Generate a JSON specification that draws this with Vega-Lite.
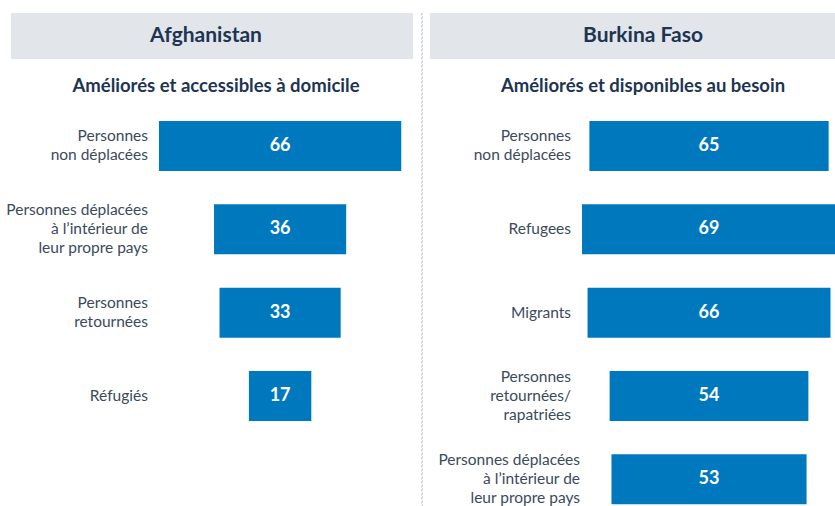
{
  "$schema": "https://vega.github.io/schema/vega-lite/v6.json",
  "autosize": {"type": "pad"},
  "padding": {"left": 6, "top": 12, "right": 0, "bottom": 0},
  "background": "white",
  "config": {
    "font": "Lato",
    "view": {"stroke": null},
    "title": {"font": "Lato"}
  },
  "datasets": {
    "afghanistan": [
      {"groupe": "Personnes non déplacées", "lignes": ["Personnes", "non déplacées"], "pct": 66},
      {"groupe": "Personnes déplacées à l’intérieur de leur propre pays", "lignes": ["Personnes déplacées", "à l’intérieur de", "leur propre pays"], "pct": 36},
      {"groupe": "Personnes retournées", "lignes": ["Personnes", "retournées"], "pct": 33},
      {"groupe": "Réfugiés", "lignes": ["Réfugiés"], "pct": 17}
    ],
    "burkina": [
      {"groupe": "Personnes non déplacées", "lignes": ["Personnes", "non déplacées"], "pct": 65},
      {"groupe": "Refugees", "lignes": ["Refugees"], "pct": 69},
      {"groupe": "Migrants", "lignes": ["Migrants"], "pct": 66},
      {"groupe": "Personnes retournées/rapatriées", "lignes": ["Personnes", "retournées/", "rapatriées"], "pct": 54},
      {"groupe": "Personnes déplacées à l’intérieur de leur propre pays", "lignes": ["Personnes déplacées", "à l’intérieur de", "leur propre pays"], "pct": 53}
    ]
  },
  "spacing": 7,
  "hconcat": [
    {
      "bounds": "flush",
      "spacing": 62,
      "vconcat": [
        {
          "width": 402,
          "height": 46,
          "view": {"fill": "#e2e6ea", "stroke": null},
          "data": {"values": [{"pays": "Afghanistan"}]},
          "mark": {"type": "text", "fontSize": 21, "fontWeight": "bold", "color": "#1d3552", "dx": -6, "baseline": "middle"},
          "encoding": {"text": {"field": "pays"}}
        },
        {
          "width": 402,
          "height": {"step": 83.33},
          "data": {"name": "afghanistan"},
          "title": {"text": "Améliorés et accessibles à domicile", "fontSize": 18.5, "fontWeight": "bold", "color": "#1d3552", "anchor": "middle", "offset": 26, "dx": 4},
          "encoding": {
            "y": {"field": "groupe", "type": "nominal", "sort": null, "axis": null, "scale": {"paddingInner": 0.4, "paddingOuter": 0}}
          },
          "layer": [
            {
              "mark": {"type": "bar", "color": "#0078be"},
              "encoding": {
                "x": {"field": "pct", "type": "quantitative", "stack": "center", "axis": null, "scale": {"domain": [-40.3, 69.2], "nice": false, "zero": false}}
              }
            },
            {
              "mark": {"type": "text", "color": "white", "fontSize": 18, "fontWeight": "bold", "baseline": "middle"},
              "encoding": {
                "x": {"datum": 33, "type": "quantitative"},
                "text": {"field": "pct", "type": "quantitative"}
              }
            },
            {
              "transform": [{"filter": "length(datum.lignes) == 1"}],
              "mark": {"type": "text", "color": "#3b4a5c", "fontSize": 15.5, "align": "right", "baseline": "middle", "lineHeight": 19, "dx": -11},
              "encoding": {"x": {"datum": 0, "type": "quantitative"}, "text": {"field": "lignes"}}
            },
            {
              "transform": [{"filter": "length(datum.lignes) == 2"}],
              "mark": {"type": "text", "color": "#3b4a5c", "fontSize": 15.5, "align": "right", "baseline": "middle", "lineHeight": 19, "dx": -11, "dy": -9.5},
              "encoding": {"x": {"datum": 0, "type": "quantitative"}, "text": {"field": "lignes"}}
            },
            {
              "transform": [{"filter": "length(datum.lignes) == 3"}],
              "mark": {"type": "text", "color": "#3b4a5c", "fontSize": 15.5, "align": "right", "baseline": "middle", "lineHeight": 19, "dx": -11, "dy": -19},
              "encoding": {"x": {"datum": 0, "type": "quantitative"}, "text": {"field": "lignes"}}
            }
          ]
        }
      ]
    },
    {
      "width": 1,
      "height": 494,
      "view": {"fill": null, "stroke": "#c6ccd2", "strokeDash": [2, 2], "strokeWidth": 1},
      "data": {"values": [{"separateur": ""}]},
      "mark": {"type": "text"},
      "encoding": {"text": {"field": "separateur"}}
    },
    {
      "bounds": "flush",
      "spacing": 62,
      "vconcat": [
        {
          "width": 406,
          "height": 46,
          "view": {"fill": "#e2e6ea", "stroke": null},
          "data": {"values": [{"pays": "Burkina Faso"}]},
          "mark": {"type": "text", "fontSize": 21, "fontWeight": "bold", "color": "#1d3552", "dx": 10, "baseline": "middle"},
          "encoding": {"text": {"field": "pays"}}
        },
        {
          "width": 406,
          "height": {"step": 83.33},
          "data": {"name": "burkina"},
          "title": {"text": "Améliorés et disponibles au besoin", "fontSize": 18.5, "fontWeight": "bold", "color": "#1d3552", "anchor": "middle", "offset": 26, "dx": 10},
          "encoding": {
            "y": {"field": "groupe", "type": "nominal", "sort": null, "axis": null, "scale": {"paddingInner": 0.4, "paddingOuter": 0}}
          },
          "layer": [
            {
              "mark": {"type": "bar", "color": "#0078be"},
              "encoding": {
                "x": {"field": "pct", "type": "quantitative", "stack": "center", "axis": null, "scale": {"domain": [-41.3, 69], "nice": false, "zero": false}}
              }
            },
            {
              "mark": {"type": "text", "color": "white", "fontSize": 18, "fontWeight": "bold", "baseline": "middle"},
              "encoding": {
                "x": {"datum": 34.5, "type": "quantitative"},
                "text": {"field": "pct", "type": "quantitative"}
              }
            },
            {
              "transform": [{"filter": "length(datum.lignes) == 1"}],
              "mark": {"type": "text", "color": "#3b4a5c", "fontSize": 15.5, "align": "right", "baseline": "middle", "lineHeight": 19, "dx": -11},
              "encoding": {"x": {"datum": 0, "type": "quantitative"}, "text": {"field": "lignes"}}
            },
            {
              "transform": [{"filter": "length(datum.lignes) == 2"}],
              "mark": {"type": "text", "color": "#3b4a5c", "fontSize": 15.5, "align": "right", "baseline": "middle", "lineHeight": 19, "dx": -11, "dy": -9.5},
              "encoding": {"x": {"datum": 0, "type": "quantitative"}, "text": {"field": "lignes"}}
            },
            {
              "transform": [{"filter": "datum.groupe == 'Personnes retournées/rapatriées'"}],
              "mark": {"type": "text", "color": "#3b4a5c", "fontSize": 15.5, "align": "right", "baseline": "middle", "lineHeight": 19, "dx": -11, "dy": -19},
              "encoding": {"x": {"datum": 0, "type": "quantitative"}, "text": {"field": "lignes"}}
            },
            {
              "transform": [{"filter": "datum.groupe == 'Personnes déplacées à l’intérieur de leur propre pays'"}],
              "mark": {"type": "text", "color": "#3b4a5c", "fontSize": 15.5, "align": "right", "baseline": "middle", "lineHeight": 19, "dx": -2, "dy": -19},
              "encoding": {"x": {"datum": 0, "type": "quantitative"}, "text": {"field": "lignes"}}
            }
          ]
        }
      ]
    }
  ]
}
